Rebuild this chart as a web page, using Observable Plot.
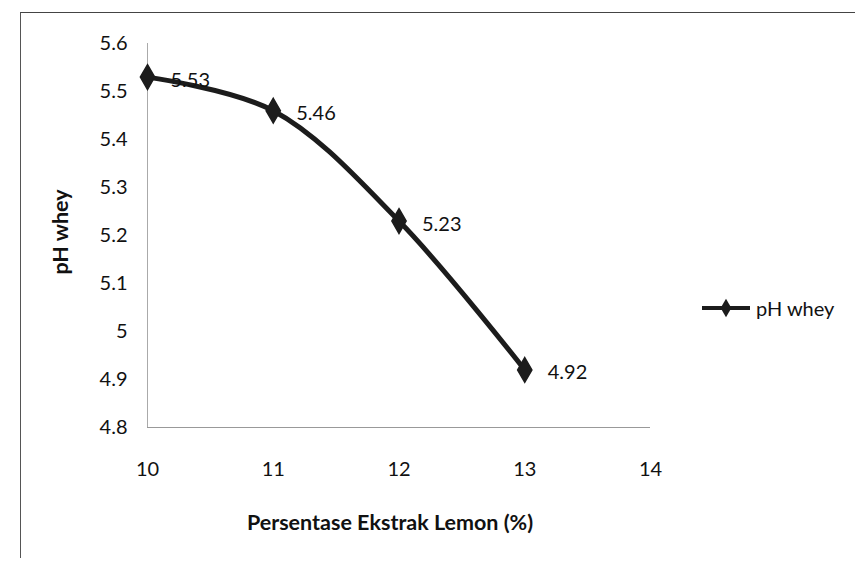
<!DOCTYPE html>
<html>
<head>
<meta charset="utf-8">
<script src="https://cdn.jsdelivr.net/npm/d3@7"></script>
<script src="https://cdn.jsdelivr.net/npm/@observablehq/plot@0.6"></script>
<style>
  html, body { margin: 0; padding: 0; background: #fff; }
  #wrap { position: relative; width: 855px; height: 579px; overflow: hidden; font-family: Lato, "Open Sans", sans-serif; }
  #frame { position: absolute; left: 20px; top: 12px; width: 900px; height: 545px; border-top: 1.5px solid #444; border-left: 1.5px solid #555; }
  #chart { position: absolute; left: 0; top: 0; }
  #legend { position: absolute; left: 702px; top: 296px; display: flex; align-items: center; font-size: 20px; color: #111; }
  #legend span { margin-left: 6px; }
</style>
</head>
<body>
<div id="wrap">
  <div id="frame"></div>
  <div id="chart"></div>
  <div id="legend"></div>
</div>
<script>
const percent = [10, 11, 12, 13];
const phWhey = [5.53, 5.46, 5.23, 4.92];
const xTicks = [10, 11, 12, 13, 14];
const yTicks = [4.8, 4.9, 5.0, 5.1, 5.2, 5.3, 5.4, 5.5, 5.6];
const seriesName = "pH whey";
const xTitle = "Persentase Ekstrak Lemon (%)";
const yTitle = "pH whey";

const data = percent.map((p, i) => ({x: p, y: phWhey[i]}));
const yFmt = d => (Math.round(d * 10) / 10).toString();

const chart = Plot.plot({
  width: 855,
  height: 579,
  marginLeft: 147,
  marginRight: 205,
  marginTop: 43,
  marginBottom: 152,
  style: {fontFamily: "Lato, 'Open Sans', sans-serif", fontSize: "20px", color: "#111", background: "transparent"},
  x: {domain: [10, 14], label: null},
  y: {domain: [4.8, 5.6], label: null},
  marks: [
    Plot.ruleX([10], {stroke: "#aaa", strokeWidth: 1}),
    Plot.ruleY([4.8], {stroke: "#999", strokeWidth: 1}),
    Plot.axisX({ticks: xTicks, tickSize: 0, tickPadding: 34, fontSize: 20, tickFormat: d => String(d), label: null}),
    Plot.axisY({ticks: yTicks, tickSize: 0, tickPadding: 20, fontSize: 20, tickFormat: yFmt, label: null}),
    Plot.line(data, {x: "x", y: "y", curve: "catmull-rom", stroke: "#1c1c1c", strokeWidth: 5}),
    Plot.dot(data, {x: "x", y: "y", symbol: "diamond", r: 7.5, fill: "#1c1c1c", stroke: "#1c1c1c"}),
    Plot.text(data, {x: "x", y: "y", text: d => d.y.toFixed(2), textAnchor: "start", dx: 23, dy: 3, fontSize: 20, fill: "#111"})
  ]
});

// axis titles
const svg = d3.select(chart);
svg.append("text")
  .attr("x", 390).attr("y", 530)
  .attr("text-anchor", "middle")
  .attr("font-weight", "bold").attr("font-size", 21.5).attr("fill", "#111")
  .text(xTitle);
svg.append("text")
  .attr("transform", "translate(68,232) rotate(-90)")
  .attr("text-anchor", "middle")
  .attr("font-weight", "bold").attr("font-size", 21.5).attr("fill", "#111")
  .text(yTitle);

document.getElementById("chart").appendChild(chart);

// legend
const leg = document.getElementById("legend");
const ls = d3.create("svg").attr("width", 48).attr("height", 24);
ls.append("line").attr("x1", 0).attr("x2", 48).attr("y1", 12).attr("y2", 12).attr("stroke", "#1c1c1c").attr("stroke-width", 4);
ls.append("path").attr("d", d3.symbol(d3.symbolDiamond, 100)()).attr("transform", "translate(24,12)").attr("fill", "#1c1c1c");
leg.appendChild(ls.node());
const t = document.createElement("span");
t.textContent = seriesName;
leg.appendChild(t);
</script>
</body>
</html>
